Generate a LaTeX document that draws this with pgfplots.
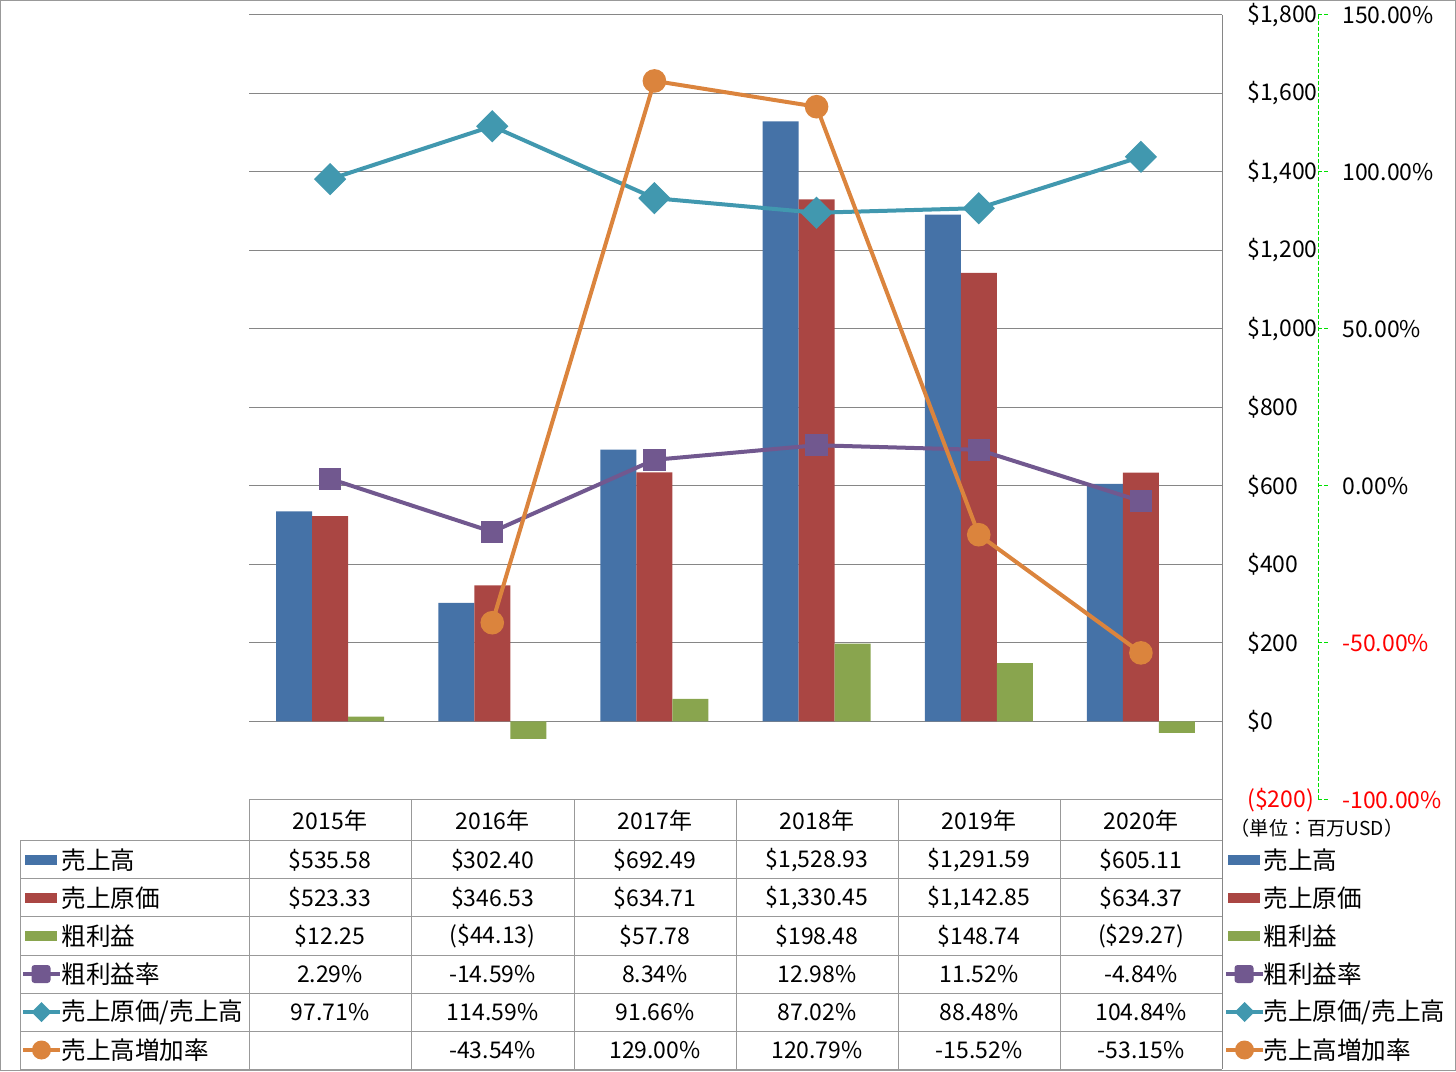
\documentclass[border=0pt]{standalone}
\usepackage{fontspec}
\setmainfont{Noto Sans CJK JP}
\usepackage{pgfplots}
\pgfplotsset{compat=1.18}
\definecolor{cB}{HTML}{4572A7}
\definecolor{cR}{HTML}{AA4643}
\definecolor{cG}{HTML}{89A54E}
\definecolor{cP}{HTML}{71588F}
\definecolor{cT}{HTML}{4198AF}
\definecolor{cO}{HTML}{DB843D}
\definecolor{gridgray}{HTML}{868686}
\definecolor{tgray}{HTML}{999999}
\definecolor{lgreen}{HTML}{00E000}
\newcommand{\trow}[7]{%
  \node at (330,#1){#2}; \node at (492.5,#1){#3}; \node at (655,#1){#4};
  \node at (817,#1){#5}; \node at (979,#1){#6}; \node at (1141,#1){#7};}
\begin{document}
\fontsize{11.5}{14}\selectfont
\begin{tikzpicture}[x=0.5pt,y=0.5pt]
\useasboundingbox (0,0) rectangle (1456,1071);
\draw[tgray, line width=0.5pt] (0.5,0.5) rectangle (1455.5,1070.5);

\begin{axis}[at={(124.5pt,135.5pt)}, anchor=south west, scale only axis,
  width=486.5pt, height=392.5pt,
  xmin=-0.5, xmax=5.5, ymin=-200, ymax=1800,
  hide x axis, axis y line*=right, y axis line style={draw=none},
  major tick length=0pt,
  ytick={-200,0,200,400,600,800,1000,1200,1400,1600,1800},
  yticklabels={\textcolor{red}{(\$200)},\$0,\$200,\$400,\$600,\$800,{\$1,000},{\$1,200},{\$1,400},{\$1,600},{\$1,800}},
  yticklabel style={anchor=west, inner sep=0pt, xshift=12.5pt},
  ymajorgrids, grid style={draw=gridgray, line width=0.5pt}]
\addplot[ybar, bar width=18pt, bar shift=-18pt, fill=cB, draw=none] coordinates {(0,535.58) (1,302.40) (2,692.49) (3,1528.93) (4,1291.59) (5,605.11)};
\addplot[ybar, bar width=18pt, bar shift=0pt, fill=cR, draw=none] coordinates {(0,523.33) (1,346.53) (2,634.71) (3,1330.45) (4,1142.85) (5,634.37)};
\addplot[ybar, bar width=18pt, bar shift=18pt, fill=cG, draw=none] coordinates {(0,12.25) (1,-44.13) (2,57.78) (3,198.48) (4,148.74) (5,-29.27)};
\end{axis}

\begin{axis}[at={(124.5pt,135.5pt)}, anchor=south west, scale only axis,
  width=486.5pt, height=392.5pt,
  xmin=-0.5, xmax=5.5, ymin=-100, ymax=150,
  hide x axis, axis y line*=right, y axis line style={draw=none},
  major tick length=0pt, clip=false,
  ytick={-100,-50,0,50,100,150},
  yticklabels={\textcolor{red}{-100.00\%},\textcolor{red}{-50.00\%},0.00\%,50.00\%,100.00\%,150.00\%},
  yticklabel style={anchor=west, inner sep=0pt, xshift=60pt}]
\addplot[cP, line width=2pt, mark=square*, mark size=5.3pt, mark options={solid, line width=0.6pt, rounded corners=1.5pt}] coordinates {(0,2.29) (1,-14.59) (2,8.34) (3,12.98) (4,11.52) (5,-4.84)};
\addplot[cT, line width=2pt, mark=square*, mark size=5.4pt, mark options={solid, line width=0.6pt, rotate=45}] coordinates {(0,97.71) (1,114.59) (2,91.66) (3,87.02) (4,88.48) (5,104.84)};
\addplot[cO, line width=2pt, mark=*, mark size=5.6pt, mark options={solid, line width=0.6pt}] coordinates {(1,-43.54) (2,129.00) (3,120.79) (4,-15.52) (5,-53.15)};
\end{axis}

% right axis line and green dashed secondary axis
\draw[gridgray, line width=0.5pt] (1222,1056) -- (1222,2);
\draw[lgreen, line width=0.5pt, dash pattern=on 2pt off 1pt] (1318,1056) -- (1318,271);
\foreach \yy in {1056,899,742,585,428,271} \draw[lgreen, line width=0.5pt, dash pattern=on 2pt off 1pt] (1318,\yy) -- (1328,\yy);
\node[font=\fontsize{9.6}{11}\selectfont, inner sep=0pt] at (1317,243) {（単位：百万USD）};

% table grid
\begin{scope}[tgray, line width=0.5pt]
\draw (249,271) -- (1222,271);
\foreach \yy in {230,192,154,116,78,40,2} \draw (20,\yy) -- (1222,\yy);
\foreach \xx in {249,411,574,736,898,1060} \draw (\xx,271) -- (\xx,2);
\draw (20,230) -- (20,2);
\end{scope}

% header
\trow{250.5}{2015年}{2016年}{2017年}{2018年}{2019年}{2020年}
\trow{211}{\$535.58}{\$302.40}{\$692.49}{\$1,528.93}{\$1,291.59}{\$605.11}
\trow{173}{\$523.33}{\$346.53}{\$634.71}{\$1,330.45}{\$1,142.85}{\$634.37}
\trow{135}{\$12.25}{(\$44.13)}{\$57.78}{\$198.48}{\$148.74}{(\$29.27)}
\trow{97}{2.29\%}{-14.59\%}{8.34\%}{12.98\%}{11.52\%}{-4.84\%}
\trow{59}{97.71\%}{114.59\%}{91.66\%}{87.02\%}{88.48\%}{104.84\%}
\trow{21}{}{-43.54\%}{129.00\%}{120.79\%}{-15.52\%}{-53.15\%}

% legends (left in table, right outside)
\foreach \lx/\tx in {25/61, 1228/1263} {
  \fill[cB] (\lx,206) rectangle ++(32,10);
  \fill[cR] (\lx,168) rectangle ++(32,10);
  \fill[cG] (\lx,130) rectangle ++(32,10);
  \draw[cP, line width=2pt] ({\lx-2},97) -- ({\lx+35},97);
  \fill[cP, rounded corners=1.5pt] ({\lx+6.5},88) rectangle ({\lx+25.5},106);
  \draw[cT, line width=2pt] ({\lx-2},59) -- ({\lx+35},59);
  \fill[cT] ({\lx+16.5},49) -- ({\lx+26.5},59) -- ({\lx+16.5},69) -- ({\lx+6.5},59) -- cycle;
  \draw[cO, line width=2pt] ({\lx-2},21) -- ({\lx+35},21);
  \fill[cO] ({\lx+16.5},21) circle (9.5);
  \begin{scope}[every node/.style={anchor=west, inner sep=0pt, font=\fontsize{12.3}{14}\selectfont}]
  \node at (\tx,211) {売上高};
  \node at (\tx,173) {売上原価};
  \node at (\tx,135) {粗利益};
  \node at (\tx,97) {粗利益率};
  \node at (\tx,59) {売上原価/売上高};
  \node at (\tx,21) {売上高増加率};
  \end{scope}
}
\end{tikzpicture}
\end{document}
